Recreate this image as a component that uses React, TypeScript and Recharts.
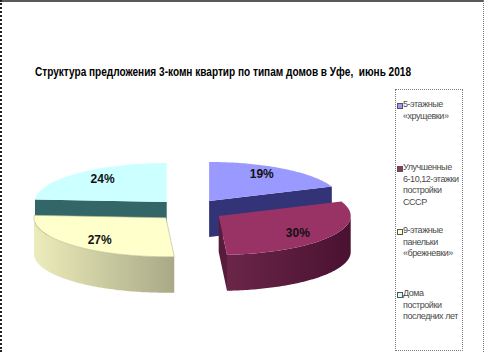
import { PieChart, Pie, Legend } from 'recharts';

const CATEGORIES = [
  ['5-этажные', '«хрущевки»'],
  ['Улучшенные', '6-10,12-этажки', 'постройки', 'СССР'],
  ['9-этажные', 'панельки', '«брежневки»'],
  ['Дома', 'постройки', 'последних лет'],
];
const SHARES = [19, 30, 27, 24];
const TITLE = 'Структура предложения 3-комн квартир по типам домов в Уфе,  июнь 2018';

// colours in the old Excel 3d pie style
const TOP_COLORS = ['#9999FF', '#993366', '#FFFFCC', '#CCFFFF'];
const WALL_LIGHT = ['#5c5ca8', '#6a2649', '#ececbb', '#8fbcbc'];
const WALL_DARK = ['#3a3a7a', '#4a1131', '#a9a987', '#4d7f7f'];
const FACE_COLORS = ['#333377', '#571b3b', '#bdbd96', '#336666'];

const data = SHARES.map((v, i) => ({ name: CATEGORIES[i].join(' '), value: v }));

const TILT = 0.295;
const DEPTH = 36;
const EXPLODE_X = 34;
const EXPLODE_Y = 11;
const RAD = Math.PI / 180;

type Layer = 'back' | 'front' | 'text';

const toPath = (pts: number[][]) =>
  pts.map((p, i) => `${i ? 'L' : 'M'}${p[0].toFixed(2)},${p[1].toFixed(2)}`).join(' ') + ' Z';

// the pie label callback gets the full sector geometry, we use it to draw the 3d slice
const renderSlice = (layer: Layer) => (props: any) => {
  const { cx, cy, outerRadius, startAngle, endAngle, midAngle, percent, index } = props;
  const rx = outerRadius;
  const ry = outerRadius * TILT;
  const ox = cx + EXPLODE_X * Math.cos(midAngle * RAD);
  const oy = cy - EXPLODE_Y * Math.sin(midAngle * RAD);
  const pt = (a: number, dz = 0) => [ox + rx * Math.cos(a * RAD), oy - ry * Math.sin(a * RAD) + dz];

  if (layer === 'text') {
    const tx = ox + 0.71 * rx * Math.cos(midAngle * RAD);
    const ty = oy - 0.82 * ry * Math.sin(midAngle * RAD);
    return (
      <text
        key={`t-${index}`}
        x={tx}
        y={ty}
        textAnchor="middle"
        dominantBaseline="central"
        fontFamily="'Liberation Sans Narrow', 'Arial Narrow', 'Liberation Sans', Arial, sans-serif"
        fontWeight="bold"
        fontSize={12}
        fill="#111"
      >
        {`${Math.round(percent * 100)}%`}
      </text>
    );
  }

  const isFront = Math.sin(midAngle * RAD) < 0;
  if ((layer === 'front') !== isFront) return null;

  const lo = Math.min(startAngle, endAngle);
  const hi = Math.max(startAngle, endAngle);

  const arc: number[][] = [];
  for (let a = lo; a < hi; a += 1) arc.push(pt(a));
  arc.push(pt(hi));
  const topPath = toPath([[ox, oy], ...arc]);

  // outer wall, only the part facing us
  const walls: string[] = [];
  let wMin = Infinity;
  let wMax = -Infinity;
  for (let k = -2; k <= 1; k++) {
    const s = Math.max(lo, -180 + 360 * k);
    const e = Math.min(hi, 360 * k);
    if (e <= s) continue;
    const upper: number[][] = [];
    const lower: number[][] = [];
    for (let a = s; a < e; a += 1) {
      upper.push(pt(a));
      lower.push(pt(a, DEPTH));
    }
    upper.push(pt(e));
    lower.push(pt(e, DEPTH));
    upper.forEach((p) => {
      wMin = Math.min(wMin, p[0]);
      wMax = Math.max(wMax, p[0]);
    });
    walls.push(toPath([...upper, ...lower.reverse()]));
  }

  // radial cut faces
  const faces: string[] = [];
  [startAngle, endAngle].forEach((a) => {
    let nx = -Math.sin(a * RAD);
    let ny = Math.cos(a * RAD);
    if (nx * Math.cos(midAngle * RAD) + ny * Math.sin(midAngle * RAD) > 0) {
      nx = -nx;
      ny = -ny;
    }
    if (ny < -0.001) {
      faces.push(toPath([[ox, oy], pt(a), pt(a, DEPTH), [ox, oy + DEPTH]]));
    }
  });

  const gid = `wall-grad-${index}`;
  return (
    <g key={`s-${index}`}>
      <defs>
        <linearGradient id={gid} gradientUnits="userSpaceOnUse" x1={wMin} y1={0} x2={wMax} y2={0}>
          <stop offset="0%" stopColor={WALL_LIGHT[index]} />
          <stop offset="100%" stopColor={WALL_DARK[index]} />
        </linearGradient>
      </defs>
      {faces.map((d, i) => (
        <path key={`f${i}`} d={d} fill={FACE_COLORS[index]} />
      ))}
      {walls.map((d, i) => (
        <path key={`w${i}`} d={d} fill={`url(#${gid})`} />
      ))}
      <path d={topPath} fill={TOP_COLORS[index]} stroke={index === 2 ? '#b5b58f' : 'none'} strokeWidth={0.6} />
    </g>
  );
};

const LegendBox = () => (
  <div
    style={{
      position: 'relative',
      width: 68,
      height: 262,
      boxSizing: 'border-box',
      border: '1px dotted #7a7a7a',
      fontFamily: "'Liberation Sans', Arial, sans-serif",
      fontSize: 9,
      letterSpacing: -0.45,
      lineHeight: '11.5px',
      color: '#4a4a4a',
    }}
  >
    {CATEGORIES.map((lines, i) => (
      <div key={i} style={{ position: 'absolute', left: 7, top: 9 + i * 63, whiteSpace: 'nowrap' }}>
        <span
          style={{
            position: 'absolute',
            left: -6,
            top: 4,
            width: 4,
            height: 4,
            background: TOP_COLORS[i],
            border: '1px solid #555',
          }}
        />
        {lines.map((l, j) => (
          <div key={j}>{l}</div>
        ))}
      </div>
    ))}
  </div>
);

const App = () => {
  const pieProps = {
    data,
    dataKey: 'value',
    nameKey: 'name',
    cx: 190,
    cy: 210,
    outerRadius: 132,
    startAngle: 90,
    endAngle: -270,
    fill: 'none',
    stroke: 'none',
    labelLine: false,
    isAnimationActive: false,
  };
  return (
    <div style={{ position: 'absolute', left: 0, top: 0, width: 486, height: 352, background: '#fff', overflow: 'hidden' }}>
      <div style={{ position: 'absolute', left: 0, top: 0, width: 484, height: 2, background: '#5a5a5a' }} />
      <div style={{ position: 'absolute', left: 0, top: 0, width: 0, height: 352, borderLeft: '2px dotted #222' }} />
      <div style={{ position: 'absolute', left: 483, top: 0, width: 0, height: 352, borderLeft: '1px dotted #777' }} />
      <PieChart width={486} height={352} margin={{ top: 0, right: 0, bottom: 0, left: 0 }}>
        <Pie {...pieProps} label={renderSlice('back')} />
        <Pie {...pieProps} label={renderSlice('front')} />
        <Pie {...pieProps} label={renderSlice('text')} />
        <Legend
          layout="vertical"
          align="right"
          verticalAlign="top"
          content={() => <LegendBox />}
          wrapperStyle={{ left: 395, top: 89, width: 68, height: 262 }}
        />
      </PieChart>
      <svg width={486} height={30} style={{ position: 'absolute', left: 0, top: 58 }}>
        <text
          x={35}
          y={18}
          textLength={376}
          lengthAdjust="spacingAndGlyphs"
          fontFamily="'Liberation Sans Narrow', 'Arial Narrow', 'Liberation Sans', Arial, sans-serif"
          fontWeight="bold"
          fontSize={12}
          fill="#000"
          style={{ whiteSpace: 'pre' }}
        >
          {TITLE}
        </text>
      </svg>
    </div>
  );
};

export default App;
